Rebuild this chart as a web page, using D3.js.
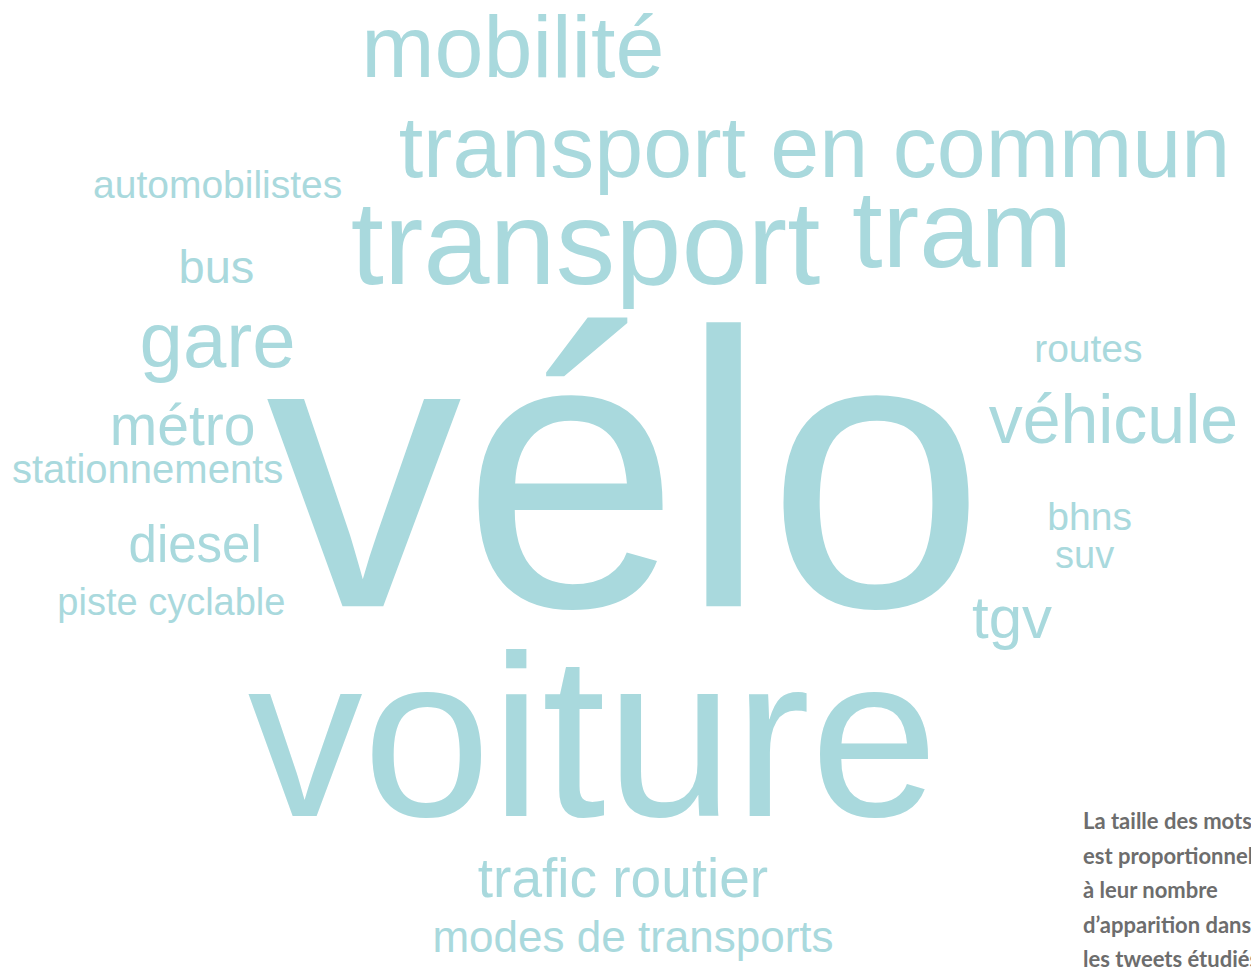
<!DOCTYPE html>
<html lang="fr">
<head>
<meta charset="utf-8">
<script src="https://cdn.jsdelivr.net/npm/d3@7"></script>
<style>
  html, body { margin: 0; padding: 0; background: #ffffff; overflow: hidden; }
  svg { display: block; }
</style>
</head>
<body>
<div id="chart"></div>
<script>
// ---- Data ----
const words = ["vélo", "voiture", "transport", "tram", "transport en commun", "mobilité",
  "gare", "véhicule", "tgv", "métro", "trafic routier", "diesel", "bus",
  "modes de transports", "stationnements", "automobilistes", "routes", "bhns",
  "piste cyclable", "suv"];
const counts = [98, 57.5, 29.75, 27.5, 22, 22, 19.5, 17, 15, 14.25, 13.75, 12.75, 11.75,
  11, 10, 9.75, 9.75, 9.75, 9.5, 9.5];
// word-cloud placement (fraction of the layout area: centre x, baseline y)
const layoutX = [0.500, 0.474, 0.468, 0.769, 0.651, 0.410, 0.174, 0.890, 0.809, 0.146,
  0.498, 0.156, 0.173, 0.506, 0.118, 0.174, 0.870, 0.871, 0.137, 0.867];
const layoutY = [0.623, 0.839, 0.292, 0.274, 0.182, 0.079, 0.377, 0.455, 0.656, 0.457,
  0.922, 0.578, 0.291, 0.978, 0.496, 0.203, 0.372, 0.545, 0.632, 0.584];
const captionLines = ["La taille des mots", "est proportionnelle", "à leur nombre",
  "d’apparition dans", "les tweets étudiés"];

// ---- Chart ----
const W = 1251, H = 973;
const svg = d3.select("#chart").append("svg").attr("width", W).attr("height", H);
svg.append("rect").attr("width", W).attr("height", H).attr("fill", "#ffffff");

const x = d3.scaleLinear().domain([0, 1]).range([0, W]);
const y = d3.scaleLinear().domain([0, 1]).range([0, H]);
const size = d3.scaleLinear().domain([0, 100]).range([0, 400]);

const data = words.map((w, i) => ({ word: w, count: counts[i], fx: layoutX[i], fy: layoutY[i] }));

svg.append("g").selectAll("text")
  .data(data)
  .join("text")
  .attr("x", d => x(d.fx))
  .attr("y", d => y(d.fy))
  .attr("text-anchor", "middle")
  .attr("font-family", "'Liberation Sans', Arial, Helvetica, sans-serif")
  .attr("font-size", d => size(d.count))
  .attr("fill", "#a9d9dd")
  .text(d => d.word);

const cap = svg.append("g").attr("transform", "translate(1083,829)");
cap.selectAll("text")
  .data(captionLines)
  .join("text")
  .attr("x", 0)
  .attr("y", (d, i) => i * 34.5)
  .attr("font-family", "Lato, 'Open Sans', sans-serif")
  .attr("font-weight", "bold")
  .attr("font-size", 22)
  .attr("fill", "#6d6d6d")
  .text(d => d);
</script>
</body>
</html>
